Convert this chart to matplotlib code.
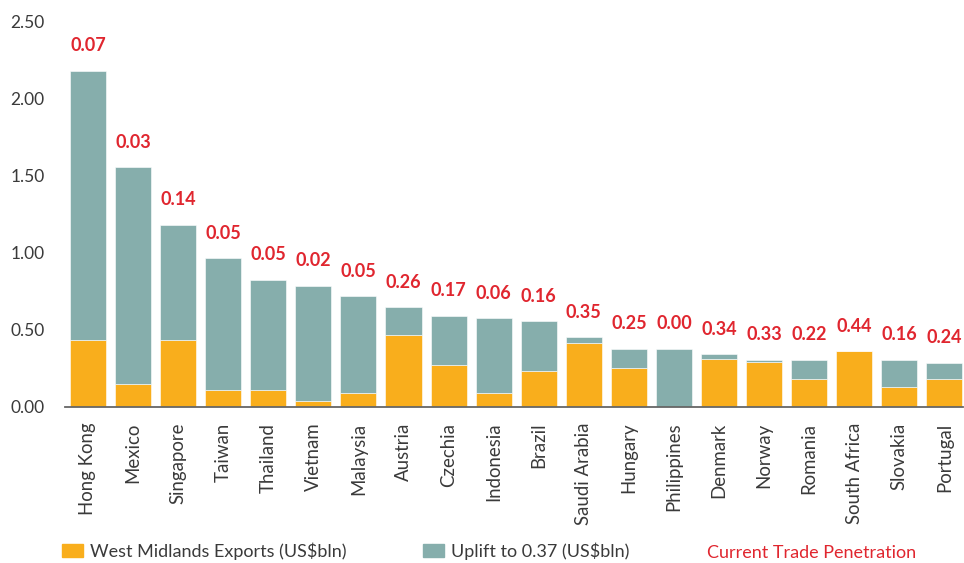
import numpy as np
import matplotlib.pyplot as plt
from matplotlib.patches import Patch

countries = ['Hong Kong', 'Mexico', 'Singapore', 'Taiwan', 'Thailand', 'Vietnam',
             'Malaysia', 'Austria', 'Czechia', 'Indonesia', 'Brazil', 'Saudi Arabia',
             'Hungary', 'Philippines', 'Denmark', 'Norway', 'Romania', 'South Africa',
             'Slovakia', 'Portugal']
exports = [0.435, 0.145, 0.435, 0.11, 0.11, 0.037, 0.091, 0.466, 0.271, 0.091,
           0.234, 0.412, 0.253, 0.0, 0.308, 0.288, 0.18, 0.36, 0.126, 0.18]
uplift = [1.745, 1.41, 0.745, 0.855, 0.713, 0.749, 0.626, 0.179, 0.32, 0.483,
          0.321, 0.039, 0.124, 0.377, 0.034, 0.017, 0.125, 0.0, 0.179, 0.106]
penetration = ['0.07', '0.03', '0.14', '0.05', '0.05', '0.02', '0.05', '0.26', '0.17', '0.06',
               '0.16', '0.35', '0.25', '0.00', '0.34', '0.33', '0.22', '0.44', '0.16', '0.24']

ORANGE = '#F9AE1C'
TEAL = '#86AEAC'
RED = '#E0262F'
GREY = '#3a3a3a'

plt.rcParams['font.family'] = ['Lato', 'DejaVu Sans']

fig = plt.figure(figsize=(9.64, 5.63), dpi=100)
ax = fig.add_axes([0.0674, 0.2776, 0.9315, 0.684])

x = np.arange(len(countries))
exports = np.array(exports)
uplift = np.array(uplift)
totals = exports + uplift

ax.bar(x, exports, width=0.8, color=ORANGE, edgecolor='white', linewidth=0.4)
ax.bar(x, uplift, bottom=exports, width=0.8, color=TEAL, edgecolor='white', linewidth=0.4)

for xi, top, lab in zip(x, totals, penetration):
    ax.annotate(lab, (xi, top), xytext=(0, 18), textcoords='offset points',
                ha='center', va='center', color=RED, fontsize=13, fontweight='bold')

ax.set_xlim(-0.51, 19.41)
ax.set_ylim(0, 2.5)
ax.set_yticks(np.arange(0, 2.51, 0.5))
ax.set_yticklabels(['%.2f' % v for v in np.arange(0, 2.51, 0.5)])
ax.set_xticks(x)
ax.set_xticklabels(countries, rotation=90)
ax.tick_params(axis='y', length=0, pad=14.5, labelsize=12.5, labelcolor=GREY)
ax.tick_params(axis='x', length=0, pad=11.5, labelsize=13.4, labelcolor=GREY)

for side in ['top', 'right', 'left']:
    ax.spines[side].set_visible(False)
ax.spines['bottom'].set_color('#666666')
ax.spines['bottom'].set_linewidth(1.3)

leg_kw = dict(frameon=False, fontsize=13, handlelength=1.16, handleheight=0.66,
              handletextpad=0.37, borderpad=0, borderaxespad=0, loc='center left')
leg1 = fig.legend(handles=[Patch(color=ORANGE)], labels=['West Midlands Exports (US$bln)'],
                  bbox_to_anchor=(0.0643, 0.0213), **leg_kw)
leg2 = fig.legend(handles=[Patch(color=TEAL)], labels=['Uplift to 0.37 (US$bln)'],
                  bbox_to_anchor=(0.4388, 0.0213), **leg_kw)
for leg in (leg1, leg2):
    for t in leg.get_texts():
        t.set_color(GREY)
fig.text(0.7334, 0.0178, 'Current Trade Penetration', color=RED, fontsize=13,
         ha='left', va='center')

fig.savefig('out.png', dpi=100)
